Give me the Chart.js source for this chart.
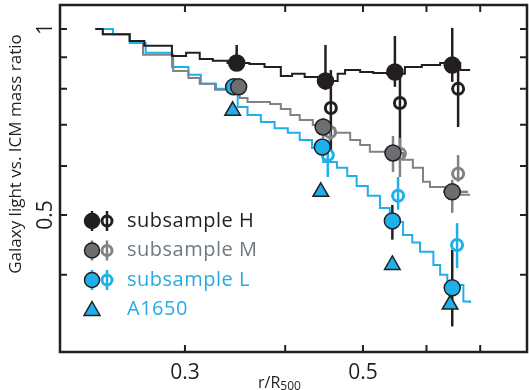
<!DOCTYPE html>
<html>
<head>
<meta charset="utf-8">
<script src="https://cdn.jsdelivr.net/npm/chart.js@4"></script>
<style>body{margin:0;background:#fff}</style>
</head>
<body>
<canvas id="c" width="529" height="390"></canvas>
<script>
// stacked-profile step curves (x = r/R500, y = ratio), level starts at each x
const stepXH = [0.232,0.237,0.256,0.267,0.289,0.301,0.313,0.325,0.339,0.361,0.377,0.395,0.408,0.423,0.442,0.465,0.475,0.496,0.515,0.536,0.564,0.592,0.624,0.661,0.680];
const stepYH = [1.000,0.981,0.956,0.939,0.904,0.915,0.894,0.888,0.881,0.878,0.868,0.839,0.846,0.836,0.824,0.846,0.858,0.852,0.849,0.846,0.868,0.874,0.881,0.858,0.858];
const stepXM = [0.232,0.237,0.256,0.266,0.290,0.303,0.313,0.327,0.341,0.351,0.359,0.383,0.395,0.406,0.417,0.433,0.445,0.461,0.482,0.496,0.510,0.533,0.561,0.577,0.594,0.606,0.637,0.661,0.680];
const stepYM = [1.000,0.981,0.956,0.908,0.855,0.833,0.815,0.797,0.797,0.773,0.762,0.756,0.742,0.726,0.712,0.699,0.691,0.679,0.661,0.649,0.633,0.630,0.614,0.596,0.566,0.555,0.545,0.539,0.539];
const stepXL = [0.232,0.244,0.256,0.268,0.289,0.303,0.314,0.328,0.339,0.349,0.359,0.373,0.388,0.403,0.417,0.432,0.446,0.464,0.478,0.491,0.507,0.525,0.540,0.561,0.576,0.589,0.612,0.624,0.637,0.667,0.680];
const stepYL = [1.000,0.981,0.949,0.915,0.868,0.843,0.815,0.800,0.791,0.748,0.726,0.707,0.691,0.679,0.661,0.642,0.609,0.596,0.578,0.557,0.537,0.513,0.487,0.464,0.451,0.436,0.415,0.400,0.385,0.362,0.360];

// filled points
const xH = [0.348,0.449,0.548,0.646], yH = [0.881,0.824,0.852,0.874];
const loH = [0.860,0.797,0.806,0.821], hiH = [0.942,0.942,0.974,1.004];
const xM = [0.350,0.446,0.545,0.646], yM = [0.806,0.694,0.630,0.545];
const loM = [0.795,0.666,0.587,0.504], hiM = [0.817,0.718,0.671,0.570];
const xL = [0.345,0.445,0.544,0.646], yL = [0.806,0.644,0.489,0.381];
const loL = [0.795,0.630,0.456,0.330], hiL = [0.817,0.660,0.519,0.439];
// open points
const xHo = [0.456,0.556,0.657], yHo = [0.745,0.759,0.800];
const loHo = [0.637,0.632,0.694], hiHo = [0.858,0.843,0.874];
const xMo = [0.455,0.556,0.657], yMo = [0.681,0.628,0.583];
const loMo = [0.660,0.576,0.566], hiMo = [0.700,0.666,0.625];
const xLo = [0.452,0.553,0.655], yLo = [0.625,0.537,0.447];
const loLo = [0.576,0.510,0.410], hiLo = [0.661,0.576,0.485];
// A1650
const xA = [0.344,0.443,0.544,0.642], yA = [0.737,0.545,0.415,0.358];

const xTicks = [0.3,0.4,0.5,0.6,0.7], xLabels = [0.3,0.5];
const yTicks = [0.4,0.5,0.6,0.7,0.8,0.9,1], yLabels = [0.5,1];

const BLACK = '#231f20', GREY = '#808285', GREYFILL = '#6d6e71', BLUE = '#1fb0ea', BLUETXT = '#27aae1';
const FONT = '"Open Sans", sans-serif';

const pts = (xs, ys) => xs.map((x, i) => ({x, y: ys[i]}));

const errBars = [
  {x: xH, lo: loH, hi: hiH, c: BLACK},
  {x: xM, lo: loM, hi: hiM, c: GREY},
  {x: xL, lo: loL, hi: hiL, c: BLACK},
  {x: xHo, lo: loHo, hi: hiHo, c: BLACK},
  {x: xMo, lo: loMo, hi: hiMo, c: GREY},
  {x: xLo, lo: loLo, hi: hiLo, c: BLUE}
];
const xErrM = {y: 0.545, lo: 0.629, hi: 0.676};

const legendRows = [
  {text: 'subsample H', fill: BLACK, ring: BLACK, txt: BLACK},
  {text: 'subsample M', fill: GREYFILL, ring: GREY, txt: '#6f7a82'},
  {text: 'subsample L', fill: BLUE, ring: BLUE, txt: BLUETXT},
  {text: 'A1650', tri: true, txt: BLUETXT}
];

const decor = {
  id: 'decor',
  beforeDatasetsDraw(chart) {
    const {ctx, scales: {x, y}} = chart;
    ctx.save();
    ctx.lineWidth = 2.5;
    errBars.forEach(s => {
      ctx.strokeStyle = s.c;
      s.x.forEach((v, i) => {
        const px = x.getPixelForValue(v);
        ctx.beginPath();
        ctx.moveTo(px, y.getPixelForValue(s.lo[i]));
        ctx.lineTo(px, y.getPixelForValue(s.hi[i]));
        ctx.stroke();
      });
    });
    ctx.strokeStyle = GREY;
    const py = y.getPixelForValue(xErrM.y);
    ctx.beginPath();
    ctx.moveTo(x.getPixelForValue(xErrM.lo), py);
    ctx.lineTo(x.getPixelForValue(xErrM.hi), py);
    ctx.stroke();
    ctx.restore();
  },
  afterDraw(chart) {
    const {ctx, chartArea: a, scales: {x, y}} = chart;
    ctx.save();
    // frame + inward ticks
    ctx.strokeStyle = BLACK;
    ctx.lineWidth = 2.5;
    ctx.strokeRect(a.left, a.top, a.right - a.left, a.bottom - a.top);
    ctx.lineWidth = 2;
    const tl = 7;
    xTicks.forEach(v => {
      const px = x.getPixelForValue(v);
      ctx.beginPath();
      ctx.moveTo(px, a.bottom); ctx.lineTo(px, a.bottom - tl);
      ctx.moveTo(px, a.top); ctx.lineTo(px, a.top + tl);
      ctx.stroke();
    });
    yTicks.forEach(v => {
      const py = y.getPixelForValue(v);
      ctx.beginPath();
      ctx.moveTo(a.left, py); ctx.lineTo(a.left + tl, py);
      ctx.moveTo(a.right, py); ctx.lineTo(a.right - tl, py);
      ctx.stroke();
    });
    // tick labels
    ctx.fillStyle = BLACK;
    ctx.font = '21px ' + FONT;
    ctx.textAlign = 'center';
    ctx.textBaseline = 'alphabetic';
    xLabels.forEach(v => ctx.fillText(String(v), x.getPixelForValue(v), a.bottom + 27));
    yLabels.forEach(v => {
      ctx.save();
      ctx.translate(a.left - 8, y.getPixelForValue(v));
      ctx.rotate(-Math.PI / 2);
      ctx.fillText(String(v), 0, 0);
      ctx.restore();
    });
    // axis titles
    ctx.font = '17px ' + FONT;
    ctx.save();
    ctx.translate(21, 154);
    ctx.rotate(-Math.PI / 2);
    ctx.fillText('Galaxy light vs. ICM mass ratio', 0, 0);
    ctx.restore();
    ctx.font = '16px ' + FONT;
    ctx.textAlign = 'left';
    ctx.fillText('r/R', 258, 388);
    const w = ctx.measureText('r/R').width;
    ctx.font = '12px ' + FONT;
    ctx.fillText('500', 258 + w, 390);
    // legend
    ctx.font = '20px ' + FONT;
    ctx.letterSpacing = '0.5px';
    ctx.textBaseline = 'middle';
    legendRows.forEach((r, i) => {
      const cy = 221 + i * 29.5;
      const cx = 92;
      if (r.tri) {
        ctx.beginPath();
        ctx.moveTo(cx, cy - 8); ctx.lineTo(cx + 8, cy + 6); ctx.lineTo(cx - 8, cy + 6); ctx.closePath();
        ctx.fillStyle = BLUE; ctx.fill();
        ctx.strokeStyle = BLACK; ctx.lineWidth = 1.5; ctx.stroke();
      } else {
        ctx.lineWidth = 2.5;
        ctx.strokeStyle = r.ring;
        ctx.beginPath();
        ctx.moveTo(cx, cy - 10); ctx.lineTo(cx, cy + 10);
        ctx.moveTo(cx + 15, cy - 10); ctx.lineTo(cx + 15, cy + 10);
        ctx.stroke();
        ctx.beginPath(); ctx.arc(cx, cy, 7.5, 0, Math.PI * 2);
        ctx.fillStyle = r.fill; ctx.fill();
        ctx.strokeStyle = BLACK; ctx.lineWidth = 1.5; ctx.stroke();
        ctx.beginPath(); ctx.arc(cx + 15, cy, 5, 0, Math.PI * 2);
        ctx.strokeStyle = r.ring; ctx.lineWidth = 3; ctx.stroke();
      }
      ctx.fillStyle = r.txt;
      ctx.fillText(r.text, 127, cy);
    });
    ctx.restore();
  }
};

const stepDs = (xs, ys, c, order) => ({
  type: 'line', data: pts(xs, ys), borderColor: c, borderWidth: 2,
  stepped: 'before', pointRadius: 0, fill: false, order
});
const filledDs = (xs, ys, c, order) => ({
  type: 'scatter', data: pts(xs, ys), backgroundColor: c, borderColor: BLACK,
  borderWidth: 1.5, pointRadius: 8, order
});
const openDs = (xs, ys, c, order) => ({
  type: 'scatter', data: pts(xs, ys), backgroundColor: 'rgba(255,255,255,0)', borderColor: c,
  borderWidth: 3, pointRadius: 5.5, order
});

new Chart(document.getElementById('c'), {
  data: {
    datasets: [
      filledDs(xH, yH, BLACK, 1),
      filledDs(xM, yM, GREYFILL, 2),
      filledDs(xL, yL, BLUE, 3),
      {type: 'scatter', data: pts(xA, yA), pointStyle: 'triangle', backgroundColor: BLUE,
       borderColor: BLACK, borderWidth: 1.5, pointRadius: 9, order: 4},
      openDs(xHo, yHo, BLACK, 5),
      openDs(xMo, yMo, GREY, 6),
      openDs(xLo, yLo, BLUE, 7),
      stepDs(stepXH, stepYH, BLACK, 10),
      stepDs(stepXM, stepYM, GREY, 11),
      stepDs(stepXL, stepYL, BLUE, 12)
    ]
  },
  options: {
    responsive: false,
    animation: false,
    layout: {autoPadding: false, padding: {left: 60, top: 5, right: 2, bottom: 38}},
    plugins: {legend: {display: false}, tooltip: {enabled: false}},
    scales: {
      x: {type: 'logarithmic', min: 0.2096, max: 0.8006, display: false},
      y: {type: 'logarithmic', min: 0.300, max: 1.0935, display: false}
    }
  },
  plugins: [decor]
});
</script>
</body>
</html>
